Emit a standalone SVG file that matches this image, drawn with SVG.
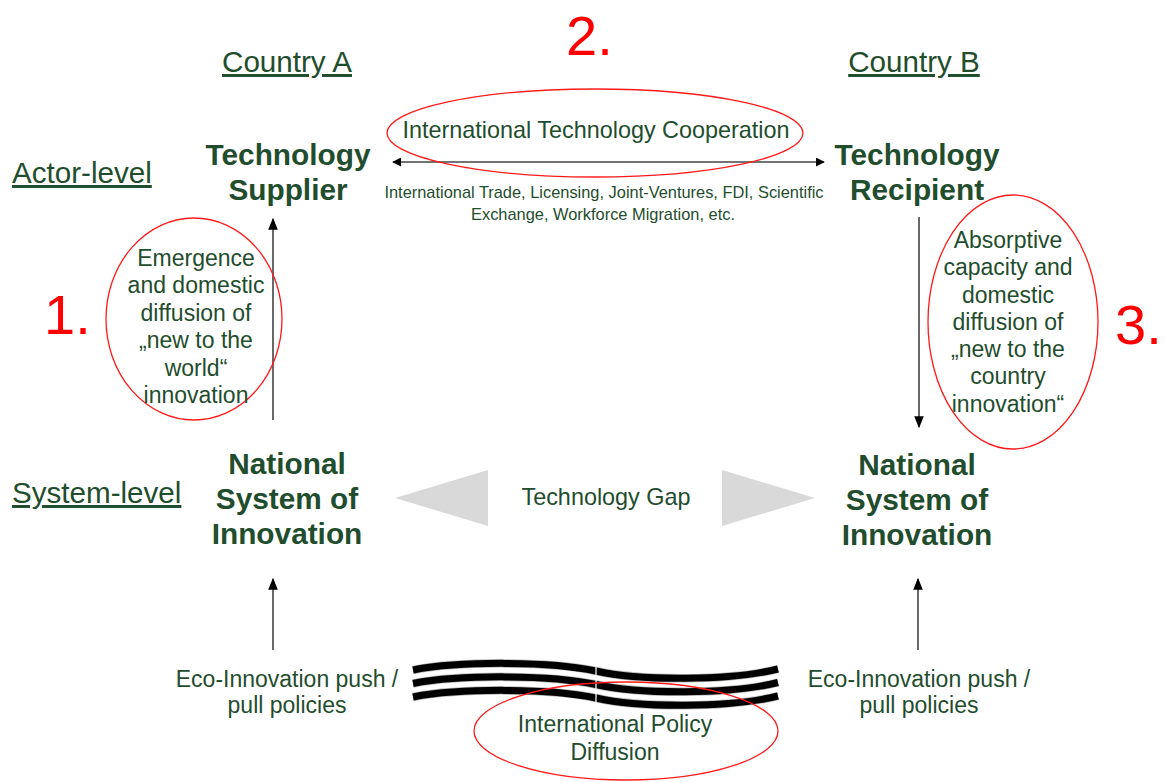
<svg xmlns="http://www.w3.org/2000/svg" width="1165" height="782" viewBox="0 0 1165 782">
  <style>
    text { font-family: "Liberation Sans", Arial, sans-serif; fill: #1f4d2e; }
    .hdr { font-size: 29.6px; text-decoration: underline; }
    .node { font-size: 29.8px; font-weight: bold; text-anchor: middle; }
    .lbl { font-size: 23px; text-anchor: middle; }
    .big { font-size: 23.4px; }
    .small { font-size: 16.4px; text-anchor: middle; }
    .num { font-size: 56px; fill: #ff0000; }
    .ring { fill: none; stroke: #ff1a1a; stroke-width: 1.3; }
    .conn { stroke: #444; stroke-width: 1.6; fill: none; }
    .gap { fill: #d9d9d9; }
    .wave { fill: none; stroke: #000; stroke-width: 7; }
    .waveedge { fill: none; stroke: #bbb; stroke-width: 8.5; }
  </style>
  <defs>
    <marker id="head" viewBox="0 0 10 10" refX="9" refY="5" markerWidth="9" markerHeight="9" markerUnits="userSpaceOnUse" orient="auto-start-reverse">
      <path d="M0,0 L10,5 L0,10 z" fill="#000"/>
    </marker>
    <marker id="headL" viewBox="0 0 10 10" refX="9" refY="5" markerWidth="12" markerHeight="12" markerUnits="userSpaceOnUse" orient="auto">
      <path d="M0,1 L10,5 L0,9 z" fill="#000"/>
    </marker>
  </defs>

  <!-- level and country headers -->
  <g id="headers">
    <text class="hdr" x="287" y="72" text-anchor="middle">Country A</text>
    <text class="hdr" x="914" y="72" text-anchor="middle">Country B</text>
    <text class="hdr" x="12" y="183">Actor-level</text>
    <text class="hdr" x="12" y="503">System-level</text>
  </g>

  <!-- numbered markers -->
  <g id="numbers">
    <text class="num" x="566" y="55">2.</text>
    <text class="num" x="44" y="334">1.</text>
    <text class="num" x="1115" y="344">3.</text>
  </g>

  <!-- connectors -->
  <g id="connectors">
    <line class="conn" x1="393" y1="162" x2="824" y2="162" marker-start="url(#head)" marker-end="url(#head)"/>
    <line class="conn" x1="273" y1="420" x2="273" y2="219" marker-end="url(#headL)"/>
    <line class="conn" x1="919" y1="217" x2="919" y2="427" marker-end="url(#headL)"/>
    <line class="conn" x1="273" y1="650" x2="273" y2="579" marker-end="url(#headL)"/>
    <line class="conn" x1="918" y1="650" x2="918" y2="579" marker-end="url(#headL)"/>
  </g>

  <!-- actor-level nodes -->
  <g id="supplier">
    <text class="node" x="288" y="165">Technology</text>
    <text class="node" x="288" y="200">Supplier</text>
  </g>
  <g id="recipient">
    <text class="node" x="917" y="165">Technology</text>
    <text class="node" x="917" y="200">Recipient</text>
  </g>

  <!-- system-level nodes -->
  <g id="nsi-a">
    <text class="node" x="287" y="474">National</text>
    <text class="node" x="287" y="509">System of</text>
    <text class="node" x="287" y="544">Innovation</text>
  </g>
  <g id="nsi-b">
    <text class="node" x="917" y="475">National</text>
    <text class="node" x="917" y="510">System of</text>
    <text class="node" x="917" y="545">Innovation</text>
  </g>

  <!-- cooperation channel -->
  <g id="cooperation">
    <ellipse class="ring" cx="595" cy="133" rx="208" ry="44"/>
    <text class="lbl big" x="596" y="138">International Technology Cooperation</text>
    <text class="small" x="604" y="198">International Trade, Licensing, Joint-Ventures, FDI, Scientific</text>
    <text class="small" x="603" y="220">Exchange, Workforce Migration, etc.</text>
  </g>

  <!-- emergence (country A) -->
  <g id="emergence">
    <ellipse class="ring" cx="194" cy="319" rx="88" ry="101"/>
    <text class="lbl" x="196" y="266">Emergence</text>
    <text class="lbl" x="196" y="293">and domestic</text>
    <text class="lbl" x="196" y="321">diffusion of</text>
    <text class="lbl" x="196" y="348">„new to the</text>
    <text class="lbl" x="196" y="376">world“</text>
    <text class="lbl" x="196" y="403">innovation</text>
  </g>

  <!-- absorption (country B) -->
  <g id="absorption">
    <ellipse class="ring" cx="1013" cy="322" rx="85" ry="127"/>
    <text class="lbl" x="1008" y="248">Absorptive</text>
    <text class="lbl" x="1008" y="275">capacity and</text>
    <text class="lbl" x="1008" y="303">domestic</text>
    <text class="lbl" x="1008" y="330">diffusion of</text>
    <text class="lbl" x="1008" y="357">„new to the</text>
    <text class="lbl" x="1008" y="384">country</text>
    <text class="lbl" x="1008" y="412">innovation“</text>
  </g>

  <!-- technology gap -->
  <g id="gap">
    <polygon class="gap" points="395,498 488,470 488,526"/>
    <polygon class="gap" points="815,498 722,470 722,526"/>
    <text class="lbl big" x="606" y="505">Technology Gap</text>
  </g>

  <!-- policies -->
  <g id="policy-a">
    <text class="lbl" x="287" y="687">Eco-Innovation push /</text>
    <text class="lbl" x="287" y="713">pull policies</text>
  </g>
  <g id="policy-b">
    <text class="lbl" x="919" y="687">Eco-Innovation push /</text>
    <text class="lbl" x="919" y="713">pull policies</text>
  </g>

  <!-- policy diffusion waves -->
  <g id="diffusion">
    <g id="wave-bands">
      <path class="waveedge" d="M413,670 C460,661 550,661 596,671"/>
      <path class="waveedge" d="M596,671 C640,681 730,681 778,669"/>
      <path class="waveedge" d="M413,683.5 C460,674.5 550,674.5 596,684.5"/>
      <path class="waveedge" d="M596,684.5 C640,694.5 730,694.5 778,682.5"/>
      <path class="waveedge" d="M413,697 C460,688 550,688 596,698"/>
      <path class="waveedge" d="M596,698 C640,708 730,708 778,696"/>
      <path class="wave" d="M413,670 C460,661 550,661 596,671"/>
      <path class="wave" d="M596,671 C640,681 730,681 778,669"/>
      <path class="wave" d="M413,683.5 C460,674.5 550,674.5 596,684.5"/>
      <path class="wave" d="M596,684.5 C640,694.5 730,694.5 778,682.5"/>
      <path class="wave" d="M413,697 C460,688 550,688 596,698"/>
      <path class="wave" d="M596,698 C640,708 730,708 778,696"/>
      <line x1="596" y1="660" x2="596" y2="706" stroke="#fff" stroke-width="1.2"/>
    </g>
    <ellipse class="ring" cx="626" cy="731" rx="152" ry="49"/>
    <text class="lbl" x="615" y="732">International Policy</text>
    <text class="lbl" x="615" y="760">Diffusion</text>
  </g>
</svg>
